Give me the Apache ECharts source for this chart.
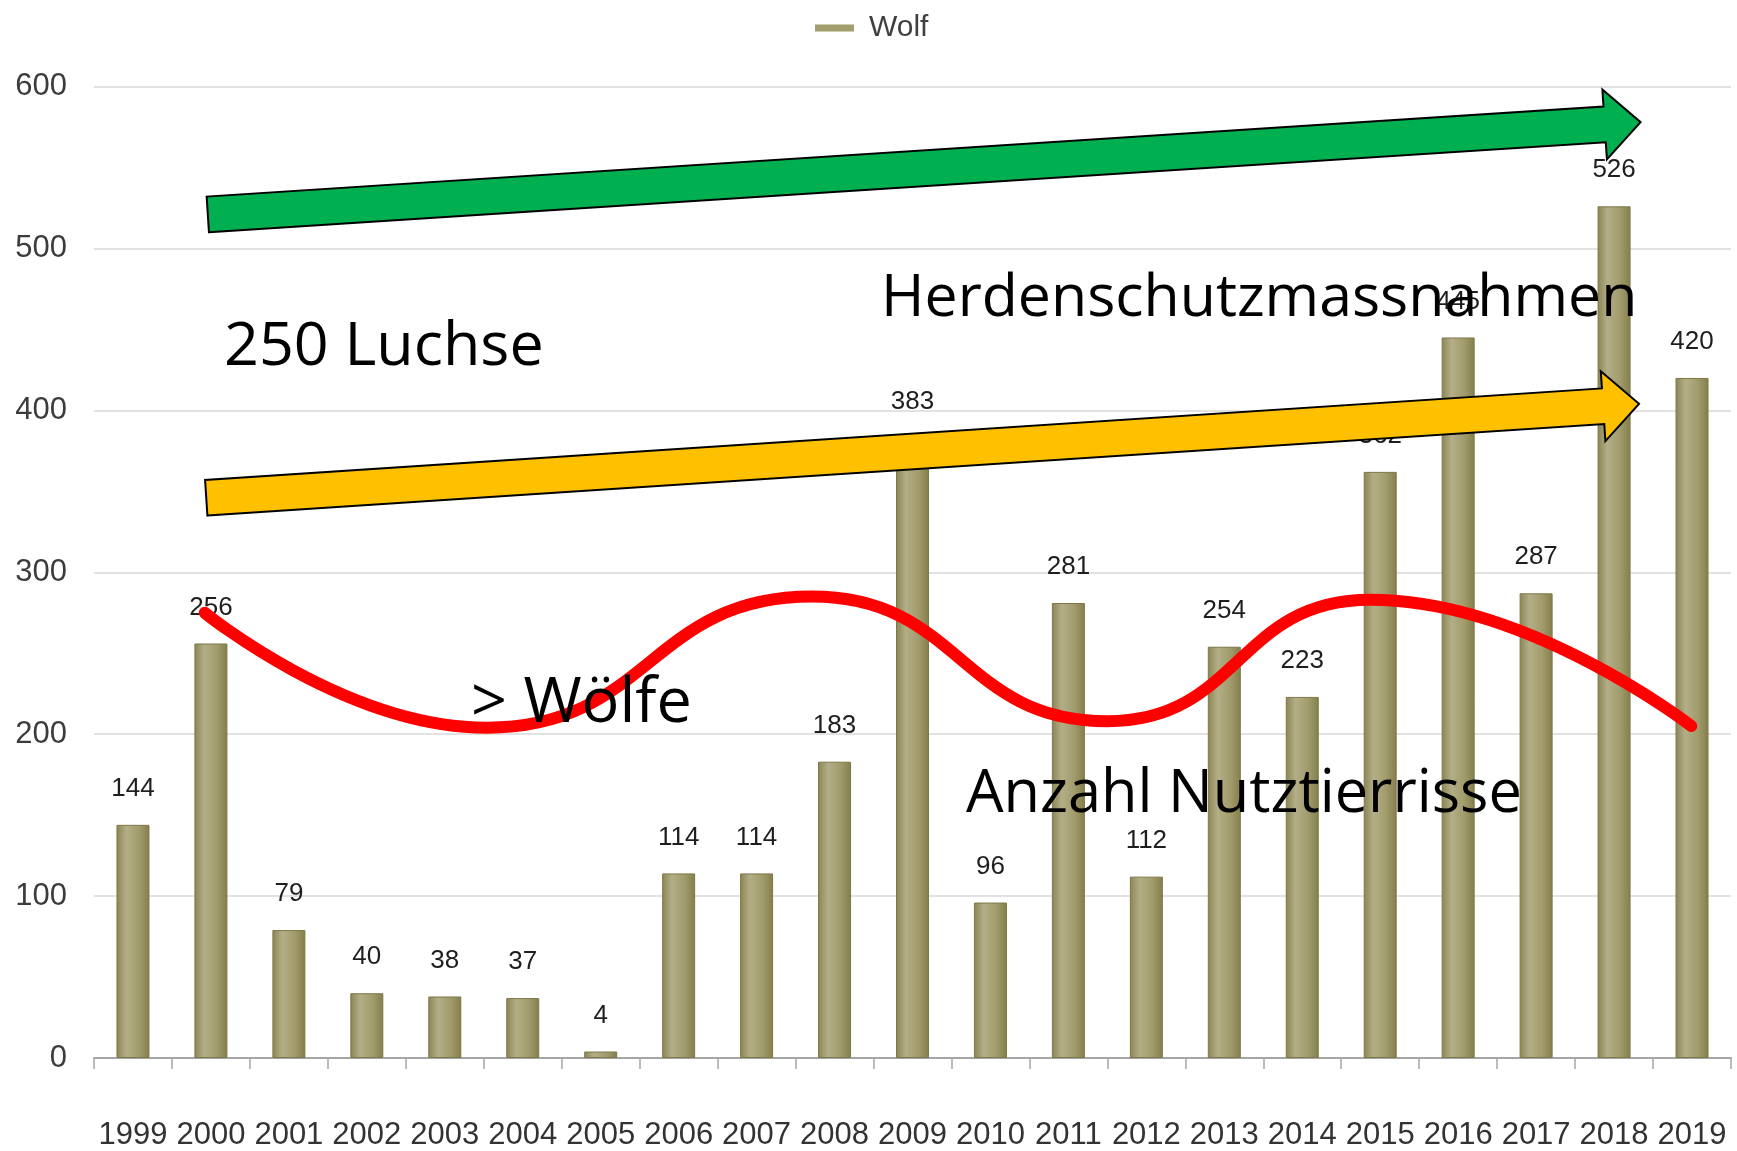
<!DOCTYPE html>
<html>
<head>
<meta charset="utf-8">
<title>Wolf - Nutztierrisse</title>
<script src="https://cdn.jsdelivr.net/npm/echarts@6/dist/echarts.min.js"></script>
<style>
    html, body { margin: 0; padding: 0; background: #fff; }
    #chart { width: 1737px; height: 1151px; }
</style>
</head>
<body>
<div id="chart"></div>
<script>
// data
const years = ['1999', '2000', '2001', '2002', '2003', '2004', '2005', '2006', '2007', '2008', '2009',
    '2010', '2011', '2012', '2013', '2014', '2015', '2016', '2017', '2018', '2019'];
const wolfRisse = [144, 256, 79, 40, 38, 37, 4, 114, 114, 183, 383, 96, 281, 112, 254, 223, 362, 445, 287, 526, 420];
const yTicks = [0, 100, 200, 300, 400, 500, 600];

// red wave drawn over the bars, [category position, value]
const wavePoints = [[0.92, 275], [4.54, 204], [8.71, 285], [12.5, 208], [15.87, 283], [19.99, 205]];

// arrows: start and tip, [category position, value]
const greenArrow = [[0.96, 521], [19.34, 578]];
const yellowArrow = [[0.94, 346], [19.32, 404]];

const fontAxis = 'Liberation Sans, Arial, sans-serif';
const fontNote = 'Open Sans, Noto Sans, sans-serif';

const barColor = new echarts.graphic.LinearGradient(0, 0, 1, 0, [
    {offset: 0, color: '#8a8553'},
    {offset: 0.3, color: '#b4ae88'},
    {offset: 0.7, color: '#a09a6b'},
    {offset: 1, color: '#847e4b'}
]);

const chart = echarts.init(document.getElementById('chart'));

chart.setOption({
    animation: false,
    legend: {
        left: 810,
        top: 8,
        itemWidth: 39,
        itemHeight: 7,
        icon: 'rect',
        data: [{name: 'Wolf', itemStyle: {color: '#a39e6e', borderWidth: 0}}],
        textStyle: {fontFamily: fontAxis, fontSize: 30, color: '#404040', padding: [0, 0, 0, 10]}
    },
    grid: {left: 94, right: 6, top: 86.5, bottom: 93},
    xAxis: [{
        type: 'category',
        data: years,
        offset: 39,
        axisLine: {lineStyle: {color: '#a6a6a6', width: 2}},
        axisTick: {show: true, length: 11, interval: 0, lineStyle: {color: '#a6a6a6', width: 1.5}},
        axisLabel: {interval: 0, margin: 23, fontFamily: fontAxis, fontSize: 31, color: '#333'}
    }, {
        // hidden helper axis for the overlay drawing
        type: 'value',
        min: -0.5,
        max: 20.5,
        show: false
    }],
    yAxis: {
        type: 'value',
        min: yTicks[0],
        max: yTicks[yTicks.length - 1],
        interval: 100,
        axisLine: {show: false},
        axisTick: {show: false},
        axisLabel: {margin: 27, fontFamily: fontAxis, fontSize: 31, color: '#3c3c3c'},
        splitLine: {lineStyle: {color: '#d9d9d9', width: 1.5}}
    },
    series: [{
        name: 'Wolf',
        type: 'bar',
        data: wolfRisse,
        barWidth: 33,
        itemStyle: {color: barColor, borderColor: '#7d7846', borderWidth: 1},
        label: {
            show: true,
            position: 'top',
            distance: 23,
            fontFamily: fontAxis,
            fontSize: 26,
            color: '#1e1e1e'
        }
    }, {
        name: 'welle',
        type: 'line',
        xAxisIndex: 1,
        data: wavePoints,
        smooth: 0.5,
        showSymbol: false,
        z: 10,
        lineStyle: {color: '#ff0000', width: 12, cap: 'round'}
    }]
});

function arrowShape(pts, fill) {
    const s = chart.convertToPixel({xAxisIndex: 1, yAxisIndex: 0}, pts[0]);
    const t = chart.convertToPixel({xAxisIndex: 1, yAxisIndex: 0}, pts[1]);
    const len = Math.hypot(t[0] - s[0], t[1] - s[1]);
    const u = [(t[0] - s[0]) / len, (t[1] - s[1]) / len];
    const n = [-u[1], u[0]];
    const shaft = 17.85, head = 35, headLen = 36;
    const b = [t[0] - u[0] * headLen, t[1] - u[1] * headLen];
    const off = (p, k) => [p[0] + n[0] * k, p[1] + n[1] * k];
    return {
        type: 'polygon',
        z: 100,
        shape: {points: [off(s, shaft), off(b, shaft), off(b, head), t, off(b, -head), off(b, -shaft), off(s, -shaft)]},
        style: {fill: fill, stroke: '#000', lineWidth: 2, lineJoin: 'miter'}
    };
}

function note(text, x, y, size) {
    return {
        type: 'text',
        z: 110,
        x: x,
        y: y,
        style: {text: text, font: `${size}px ${fontNote}`, fill: '#000', verticalAlign: 'middle'}
    };
}

chart.setOption({
    graphic: [
        arrowShape(greenArrow, '#00b050'),
        arrowShape(yellowArrow, '#ffc000'),
        note('250 Luchse', 224, 348, 61),
        note('Herdenschutzmassnahmen', 881, 299, 59),
        note('> Wölfe', 471, 704, 63),
        note('Anzahl Nutztierrisse', 966, 795, 59.5)
    ]
});
</script>
</body>
</html>
